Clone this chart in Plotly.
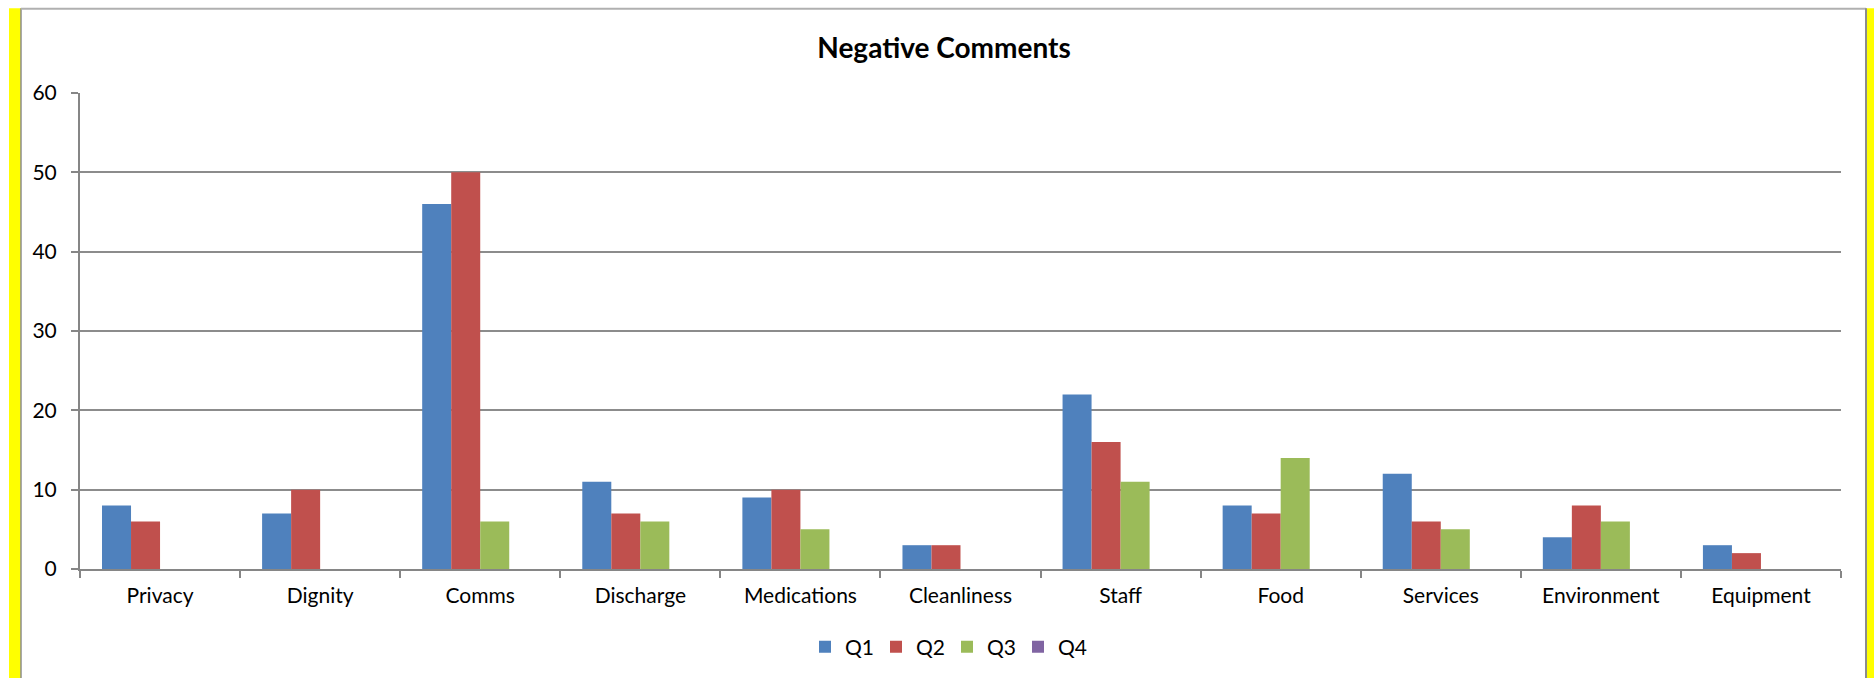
import plotly.graph_objects as go

categories = ["Privacy", "Dignity", "Comms", "Discharge", "Medications", "Cleanliness",
              "Staff", "Food", "Services", "Environment", "Equipment"]
q1 = [8, 7, 46, 11, 9, 3, 22, 8, 12, 4, 3]
q2 = [6, 10, 50, 7, 10, 3, 16, 7, 6, 8, 2]
q3 = [None, None, 6, 6, 5, None, 11, 14, 5, 6, None]
q4 = [None] * 11
series = [("Q1", q1, "#4F81BD"), ("Q2", q2, "#C0504D"), ("Q3", q3, "#9BBB59"), ("Q4", q4, "#8064A2")]
y_ticks = [0, 10, 20, 30, 40, 50, 60]

W, H = 1874, 678
L, R, T, B = 80, 1841, 92.7, 569
FONT = "Lato, Calibri, 'Open Sans', sans-serif"

fig = go.Figure()
for name, vals, col in series:
    fig.add_trace(go.Bar(x=categories, y=vals, name=name, marker=dict(color=col, line=dict(width=0))))

def px_x(p):
    return (p - L) / (R - L)

def px_y(p):
    return (B - p) / (B - T)

shapes = [
    dict(type="rect", xref="paper", yref="paper", x0=px_x(9), x1=px_x(21), y0=px_y(H + 2), y1=px_y(8),
         fillcolor="#FFFF00", line=dict(width=0), layer="below"),
    dict(type="rect", xref="paper", yref="paper", x0=px_x(1866), x1=px_x(W + 2), y0=px_y(H + 2), y1=px_y(8),
         fillcolor="#FFFF00", line=dict(width=0), layer="below"),
    dict(type="line", xref="paper", yref="paper", x0=px_x(21), x1=px_x(21), y0=px_y(H + 2), y1=px_y(8),
         line=dict(color="#8c8c8c", width=1.5)),
    dict(type="line", xref="paper", yref="paper", x0=px_x(21), x1=px_x(1866), y0=px_y(8.5), y1=px_y(8.5),
         line=dict(color="#b0b0b0", width=2)),
    dict(type="line", xref="paper", yref="paper", x0=px_x(1866), x1=px_x(1866), y0=px_y(H + 2), y1=px_y(8),
         line=dict(color="#8c8c8c", width=2)),
]

fig.update_layout(
    width=W, height=H,
    margin=dict(l=L, r=W - R, t=T, b=H - B, autoexpand=False),
    paper_bgcolor="white", plot_bgcolor="white",
    font=dict(family=FONT, size=21, color="black"),
    title=dict(text="<b>Negative Comments</b>", x=944 / W, xanchor="center", y=1 - 48 / H, yanchor="middle",
               font=dict(family=FONT, size=28, color="black")),
    barmode="group", bargap=0.275, bargroupgap=0,
    showlegend=True,
    legend=dict(orientation="h", x=947 / W, xanchor="center", xref="container",
                y=1 - 647 / H, yanchor="middle", yref="container",
                font=dict(family=FONT, size=21), itemwidth=30, traceorder="normal",
                entrywidth=26, entrywidthmode="pixels"),
    shapes=shapes,
)
fig.update_xaxes(
    showline=True, linecolor="#868686", linewidth=2, showgrid=False,
    ticks="outside", tickson="boundaries", ticklen=7, tickcolor="#868686", tickwidth=1.5,
    ticklabelstandoff=7, tickfont=dict(family=FONT, size=21),
)
fig.update_yaxes(
    range=[0, 60], tickvals=y_ticks, showline=True, linecolor="#868686", linewidth=2,
    showgrid=True, gridcolor="#8c8c8c", gridwidth=1.5, zeroline=False,
    ticks="outside", ticklen=7, tickcolor="#868686", tickwidth=1.5,
    ticklabelstandoff=10, tickfont=dict(family=FONT, size=21),
)

fig.write_html("out.html")
